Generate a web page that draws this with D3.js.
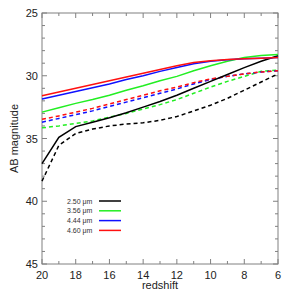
<!DOCTYPE html>
<html>
<head>
<meta charset="utf-8">
<script src="https://cdn.jsdelivr.net/npm/d3@7"></script>
<style>
body{margin:0;background:#fff;}
text{font-family:"Liberation Sans",Arial,sans-serif;}
</style>
</head>
<body>
<script>
//data
const redshift = [20,19,18,17,16,15,14,13,12,11,10,9,8,7,6];
const solid250 = [37.0,34.9,34.05,33.7,33.35,32.95,32.5,32.05,31.55,31.0,30.45,29.9,29.35,28.85,28.4];
const solid356 = [32.9,32.55,32.2,31.9,31.55,31.15,30.8,30.4,30.05,29.6,29.2,28.85,28.55,28.38,28.3];
const solid444 = [31.85,31.55,31.25,30.95,30.65,30.3,30.0,29.65,29.35,29.05,28.85,28.72,28.65,28.6,28.55];
const solid460 = [31.6,31.3,31.0,30.7,30.4,30.1,29.8,29.5,29.2,28.95,28.8,28.7,28.65,28.6,28.55];
const dash250 = [38.4,35.55,34.6,34.25,34.0,33.85,33.75,33.55,33.25,32.8,32.35,31.8,31.15,30.5,29.85];
const dash356 = [34.15,34.0,33.8,33.6,33.3,33.0,32.65,32.3,31.9,31.4,30.9,30.45,30.05,29.65,29.55];
const dash444 = [33.7,33.4,33.1,32.8,32.45,32.1,31.75,31.4,31.05,30.65,30.3,30.05,29.85,29.7,29.6];
const dash460 = [33.47,33.2,32.9,32.6,32.25,31.9,31.55,31.2,30.9,30.55,30.25,30.05,29.85,29.7,29.6];
const legendLabels = ['2.50 \u03bcm','3.56 \u03bcm','4.44 \u03bcm','4.60 \u03bcm'];
const colors = ['#000000','#22ee22','#1010ff','#ff1010'];
const xTicks = [20,18,16,14,12,10,8,6];
const yTicks = [25,30,35,40,45];

const width = 291, height = 291;
const m = {left:42, right:278, top:13, bottom:264};

const svg = d3.select('body').append('svg')
	.attr('width', width)
	.attr('height', height);

const x = d3.scaleLinear().domain([20,6]).range([m.left, m.right]);
const y = d3.scaleLinear().domain([25,45]).range([m.top, m.bottom]);
const axisCol = '#808080';

//frame
svg.append('rect')
	.attr('x', m.left).attr('y', m.top)
	.attr('width', m.right-m.left).attr('height', m.bottom-m.top)
	.attr('fill','none').attr('stroke',axisCol).attr('stroke-width',1);

//ticks, all inward, mirrored on top/right
const tk = svg.append('g').attr('stroke',axisCol).attr('stroke-width',1);
d3.range(6,21).forEach(v => {
	const len = v%2===0 ? 5 : 3;
	tk.append('line').attr('x1',x(v)).attr('x2',x(v)).attr('y1',m.bottom).attr('y2',m.bottom-len);
	tk.append('line').attr('x1',x(v)).attr('x2',x(v)).attr('y1',m.top).attr('y2',m.top+len);
});
d3.range(25,46).forEach(v => {
	const len = v%5===0 ? 5 : 3;
	tk.append('line').attr('y1',y(v)).attr('y2',y(v)).attr('x1',m.left).attr('x2',m.left+len);
	tk.append('line').attr('y1',y(v)).attr('y2',y(v)).attr('x1',m.right).attr('x2',m.right-len);
});

//tick labels
svg.selectAll('.xl').data(xTicks).enter().append('text')
	.attr('x', d => x(d)).attr('y', m.bottom+15)
	.attr('text-anchor','middle').attr('font-size',11).attr('fill','#222')
	.text(d => d);
svg.selectAll('.yl').data(yTicks).enter().append('text')
	.attr('x', m.left-4).attr('y', d => y(d)+4)
	.attr('text-anchor','end').attr('font-size',11).attr('fill','#222')
	.text(d => d);

//axis titles
svg.append('text').attr('x',(m.left+m.right)/2).attr('y',289)
	.attr('text-anchor','middle').attr('font-size',11).attr('fill','#222').text('redshift');
svg.append('text').attr('transform',`translate(18,${(m.top+m.bottom)/2}) rotate(-90)`)
	.attr('text-anchor','middle').attr('font-size',11).attr('fill','#222').text('AB magnitude');

//curves
const line = d3.line().x((d,i) => x(redshift[i])).y(d => y(d));
const plot = svg.append('g');
const series = [
	{v:dash250,c:0,dash:true},{v:dash356,c:1,dash:true},{v:dash444,c:2,dash:true},{v:dash460,c:3,dash:true},
	{v:solid250,c:0},{v:solid356,c:1},{v:solid444,c:2},{v:solid460,c:3}
];
series.forEach(s => {
	plot.append('path')
		.attr('d', line(s.v))
		.attr('fill','none')
		.attr('stroke', colors[s.c])
		.attr('stroke-width',1.5)
		.attr('stroke-dasharray', s.dash ? '4,3' : null);
});

//legend
const lg = svg.append('g');
legendLabels.forEach((t,i) => {
	const yy = 201 + i*9.8;
	lg.append('text').attr('x',67).attr('y',yy+2.5).attr('font-size',7).attr('fill','#333').text(t);
	lg.append('line').attr('x1',99).attr('x2',121).attr('y1',yy).attr('y2',yy)
		.attr('stroke',colors[i]).attr('stroke-width',1.5);
});
</script>
</body>
</html>
